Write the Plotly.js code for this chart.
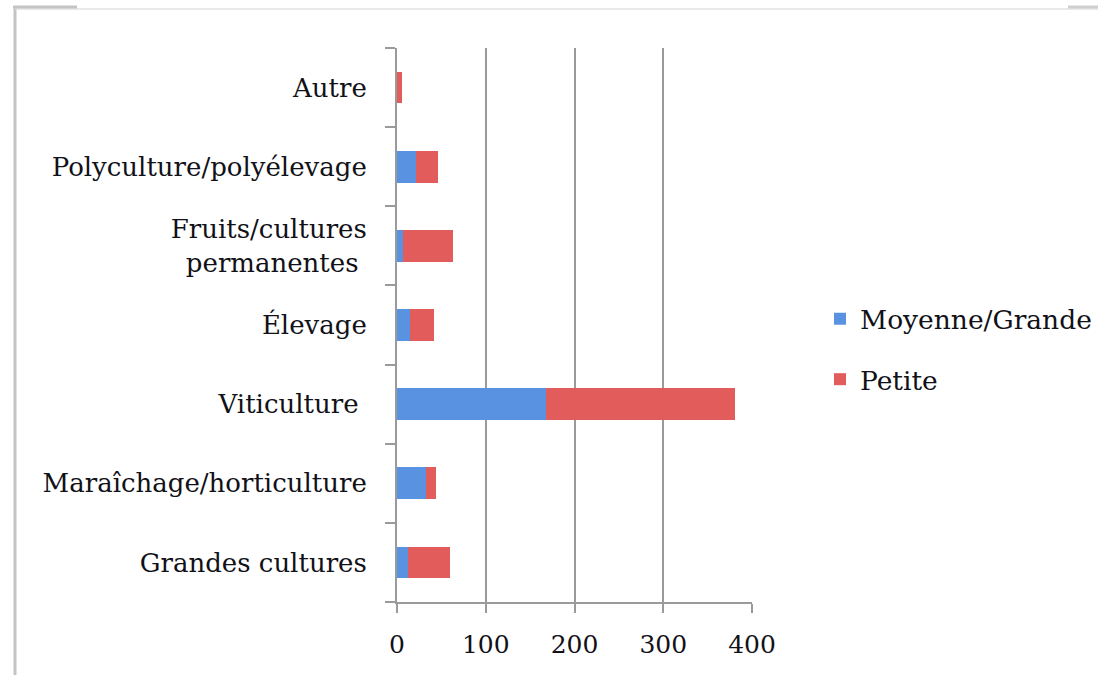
<!DOCTYPE html>
<html>
<head>
<meta charset="utf-8">
<script src="https://cdn.plot.ly/plotly-3.0.1.min.js"></script>
<style>html,body{margin:0;padding:0;background:#fff;}#chart{width:1098px;height:675px;}</style>
</head>
<body>
<div id="chart"></div>
<script>
const categories = ["Grandes cultures", "Maraîchage/horticulture", "Viticulture ", "Élevage", "Fruits/cultures<br>permanentes ", "Polyculture/polyélevage", "Autre"];
const moyenneGrande = [12, 33, 168, 15, 7, 21, 0];
const petite = [48, 11, 213, 27, 56, 25, 6];
const seriesNames = ["Moyenne/Grande", "Petite"];
const xTicks = [0, 100, 200, 300, 400];

const L = 397, R = 752, T = 48, B = 602, W = 1098, H = 675;
const px = v => (v - L) / (R - L);
const py = v => (B - v) / (B - T);

const font = {family: "DejaVu Serif", size: 26, color: "#111118"};

const traces = [
  {type: "bar", orientation: "h", name: seriesNames[0], y: categories, x: moyenneGrande,
   marker: {color: "#5a92e2", line: {width: 0}}, legendgroup: "a"},
  {type: "bar", orientation: "h", name: seriesNames[1], y: categories, x: petite,
   marker: {color: "#e25c5c", line: {width: 0}}, legendgroup: "b"}
];

const layout = {
  width: W, height: H,
  margin: {l: L, r: W - R, t: T, b: H - B, pad: 0, autoexpand: false},
  barmode: "stack", bargap: 0.6,
  paper_bgcolor: "#fff", plot_bgcolor: "#fff",
  font: font,
  showlegend: true,
  legend: {x: px(820), xanchor: "left", y: py(295), yanchor: "top",
           font: {family: "DejaVu Serif", size: 26.5, color: "#111118"},
           traceorder: "grouped", tracegroupgap: 23, itemwidth: 30, itemsizing: "constant"},
  xaxis: {range: [0, 400], tickvals: xTicks, ticktext: xTicks.map(String),
          showgrid: true, gridcolor: "#9a9a9a", gridwidth: 2,
          showline: true, linecolor: "#9a9a9a", linewidth: 2,
          ticks: "outside", ticklen: 9, tickcolor: "#9a9a9a", tickwidth: 2,
          zeroline: false, ticklabelstandoff: 10, fixedrange: true, automargin: false,
          tickfont: {family: "DejaVu Serif", size: 25, color: "#111118"}},
  yaxis: {type: "category", categoryorder: "array", categoryarray: categories,
          showline: true, linecolor: "#9a9a9a", linewidth: 2,
          ticks: "outside", ticklen: 10, tickcolor: "#9a9a9a", tickwidth: 2,
          tickson: "boundaries", showgrid: false, ticklabelstandoff: 23, fixedrange: true, automargin: false},
  shapes: [
    {type: "line", xref: "paper", yref: "paper", x0: px(15), x1: px(15), y0: py(7), y1: py(675),
     line: {color: "#c4c4c4", width: 3}},
    {type: "line", xref: "paper", yref: "paper", x0: px(15), x1: px(1098), y0: py(9), y1: py(9),
     line: {color: "#e2e2e2", width: 1.5}},
    {type: "line", xref: "paper", yref: "paper", x0: px(13), x1: px(77), y0: py(7), y1: py(7),
     line: {color: "#c4c4c4", width: 3}},
    {type: "line", xref: "paper", yref: "paper", x0: px(1068), x1: px(1098), y0: py(7), y1: py(7),
     line: {color: "#cfcfcf", width: 3}}
  ]
};

Plotly.newPlot("chart", traces, layout, {displayModeBar: false, staticPlot: true});
</script>
</body>
</html>
